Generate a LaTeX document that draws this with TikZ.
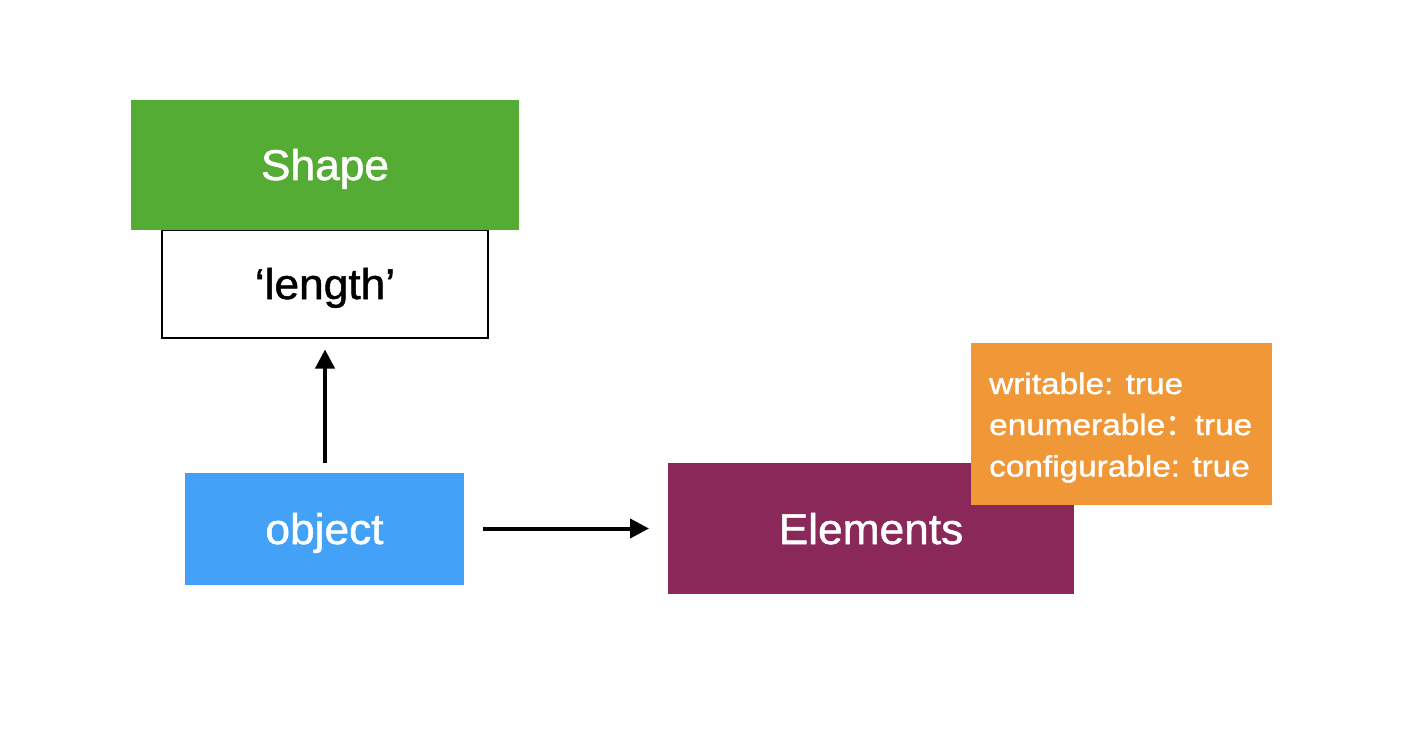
\documentclass[tikz,border=0pt]{standalone}
\usepackage{fontspec}
\setmainfont{Liberation Sans}
\newfontfamily\bigfont[FakeStretch=1.03,FakeBold=1.2]{Liberation Sans}
\newfontfamily\propfont[FakeStretch=1.13,FakeBold=1.2]{Liberation Sans}
\newfontfamily\cjk[FakeBold=1.2]{Noto Sans CJK SC}
\usetikzlibrary{arrows.meta}
\definecolor{shapegreen}{RGB}{85,172,52}
\definecolor{objblue}{RGB}{67,162,247}
\definecolor{elempurple}{RGB}{138,40,90}
\definecolor{proporange}{RGB}{240,152,56}
\tikzset{
  box/.style={rectangle, inner sep=0pt, outer sep=0pt, text height=31pt, text depth=0pt},
  bigtext/.style={font=\bigfont\fontsize{43pt}{50pt}\selectfont},
  proptext/.style={font=\propfont\fontsize{29.5pt}{41pt}\selectfont, text=white, inner sep=0pt, anchor=base west},
  conn/.style={line width=4pt, -{Triangle[length=19pt,width=19pt]}}
}
\begin{document}
\begin{tikzpicture}[x=1pt,y=-1pt]
\useasboundingbox (0,0) rectangle (1424,752);
% 'length' box (under the green one)
\node[box, bigtext, draw=black, line width=2pt, fill=white, minimum width=326pt, minimum height=108pt] (len) at (325,283.5) {‘length’};
\node[box, bigtext, fill=shapegreen, text=white, minimum width=388pt, minimum height=130pt] (shape) at (325,164.5) {Shape};
\node[box, bigtext, fill=objblue, text=white, minimum width=279pt, minimum height=112pt] (obj) at (324.5,528.5) {object};
\node[box, bigtext, fill=elempurple, text=white, minimum width=406pt, minimum height=131pt] (elem) at (871,528.5) {Elements};
\node[box, fill=proporange, minimum width=301pt, minimum height=162pt] (props) at (1121.5,424) {};
\node[proptext] (w1) at (989,394) {writable: true};
\node[proptext] (w2) at (989,435) {enumerable{\cjk ：}true};
\node[proptext] (w3) at (989,476.5) {configurable: true};
\draw[conn, shorten <=10pt, shorten >=12pt] (obj.north -| len.south) -- (len.south);
\draw[conn, shorten <=19pt, shorten >=19pt] (obj.east) -- (obj.east -| elem.west);
\end{tikzpicture}
\end{document}
